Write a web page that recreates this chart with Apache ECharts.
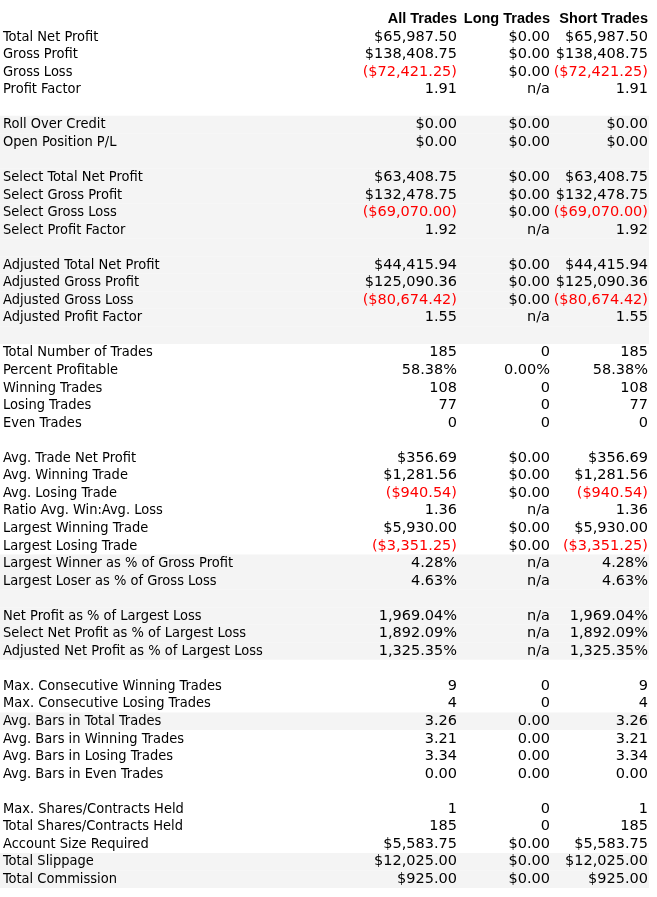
<!DOCTYPE html>
<html>
<head>
<meta charset="utf-8">
<script src="https://cdn.jsdelivr.net/npm/echarts@6/dist/echarts.min.js"></script>
<style>
html,body{margin:0;padding:0;background:#fff;}
#chart{width:657px;height:897px;}
</style>
</head>
<body>
<div id="chart"></div>
<script>
// column headers
var headers = ['All Trades', 'Long Trades', 'Short Trades'];

// row labels, '' = blank spacer row
var rowLabels = [
    'Total Net Profit', 'Gross Profit', 'Gross Loss', 'Profit Factor', '',
    'Roll Over Credit', 'Open Position P/L', '',
    'Select Total Net Profit', 'Select Gross Profit', 'Select Gross Loss', 'Select Profit Factor', '',
    'Adjusted Total Net Profit', 'Adjusted Gross Profit', 'Adjusted Gross Loss', 'Adjusted Profit Factor', '',
    'Total Number of Trades', 'Percent Profitable', 'Winning Trades', 'Losing Trades', 'Even Trades', '',
    'Avg. Trade Net Profit', 'Avg. Winning Trade', 'Avg. Losing Trade', 'Ratio Avg. Win:Avg. Loss',
    'Largest Winning Trade', 'Largest Losing Trade', 'Largest Winner as % of Gross Profit',
    'Largest Loser as % of Gross Loss', '',
    'Net Profit as % of Largest Loss', 'Select Net Profit as % of Largest Loss',
    'Adjusted Net Profit as % of Largest Loss', '',
    'Max. Consecutive Winning Trades', 'Max. Consecutive Losing Trades', 'Avg. Bars in Total Trades',
    'Avg. Bars in Winning Trades', 'Avg. Bars in Losing Trades', 'Avg. Bars in Even Trades', '',
    'Max. Shares/Contracts Held', 'Total Shares/Contracts Held', 'Account Size Required',
    'Total Slippage', 'Total Commission'
];

var allTrades = [
    '$65,987.50', '$138,408.75', '($72,421.25)', '1.91', '',
    '$0.00', '$0.00', '',
    '$63,408.75', '$132,478.75', '($69,070.00)', '1.92', '',
    '$44,415.94', '$125,090.36', '($80,674.42)', '1.55', '',
    '185', '58.38%', '108', '77', '0', '',
    '$356.69', '$1,281.56', '($940.54)', '1.36', '$5,930.00', '($3,351.25)', '4.28%', '4.63%', '',
    '1,969.04%', '1,892.09%', '1,325.35%', '',
    '9', '4', '3.26', '3.21', '3.34', '0.00', '',
    '1', '185', '$5,583.75', '$12,025.00', '$925.00'
];

var longTrades = [
    '$0.00', '$0.00', '$0.00', 'n/a', '',
    '$0.00', '$0.00', '',
    '$0.00', '$0.00', '$0.00', 'n/a', '',
    '$0.00', '$0.00', '$0.00', 'n/a', '',
    '0', '0.00%', '0', '0', '0', '',
    '$0.00', '$0.00', '$0.00', 'n/a', '$0.00', '$0.00', 'n/a', 'n/a', '',
    'n/a', 'n/a', 'n/a', '',
    '0', '0', '0.00', '0.00', '0.00', '0.00', '',
    '0', '0', '$0.00', '$0.00', '$0.00'
];

var shortTrades = [
    '$65,987.50', '$138,408.75', '($72,421.25)', '1.91', '',
    '$0.00', '$0.00', '',
    '$63,408.75', '$132,478.75', '($69,070.00)', '1.92', '',
    '$44,415.94', '$125,090.36', '($80,674.42)', '1.55', '',
    '185', '58.38%', '108', '77', '0', '',
    '$356.69', '$1,281.56', '($940.54)', '1.36', '$5,930.00', '($3,351.25)', '4.28%', '4.63%', '',
    '1,969.04%', '1,892.09%', '1,325.35%', '',
    '9', '4', '3.26', '3.21', '3.34', '0.00', '',
    '1', '185', '$5,583.75', '$12,025.00', '$925.00'
];

// rows (header is row 0) that sit on the grey band
var shadedRows = [6, 7, 8, 9, 10, 11, 12, 13, 14, 15, 16, 17, 18, 31, 32, 33, 34, 35, 36, 40, 48, 49];

// layout
var W = 657;
var labelX = 3;
var colRight = [457, 550, 648];
var bandRight = 649;
var labelFont = '14.5px "DejaVu Sans Condensed", "Liberation Sans", sans-serif';
var valueFont = '14.5px "DejaVu Sans", sans-serif';
var headFont = 'bold 14.5px "Liberation Sans", Arial, sans-serif';

var rowCount = rowLabels.length + 1;
var rowIds = [];
for (var i = 0; i < rowCount; i++) rowIds.push(String(i));

var bandData = rowIds.map(function (r, i) {
    return shadedRows.indexOf(i) >= 0 ? bandRight : '-';
});

function textSeries(texts, anchorX, align, font, head) {
    var cells = [head].concat(texts);
    return {
        type: 'custom',
        silent: true,
        z: 5,
        clip: false,
        renderItem: function (params, api) {
            var s = cells[params.dataIndex];
            if (!s) return null;
            var pt = api.coord([api.value(0), api.value(1)]);
            var isHead = params.dataIndex === 0;
            return {
                type: 'text',
                x: pt[0],
                y: pt[1],
                z2: 10,
                style: {
                    text: s,
                    font: isHead ? headFont : font,
                    fill: s.charAt(0) === '(' ? '#ff0000' : '#000000',
                    align: align,
                    verticalAlign: 'middle'
                }
            };
        },
        data: cells.map(function (s, i) { return [anchorX, i]; })
    };
}

var series = [{
    type: 'bar',
    silent: true,
    z: 1,
    data: bandData,
    barWidth: '100%',
    barCategoryGap: '0%',
    itemStyle: { color: '#f4f4f4' }
}];
series.push(textSeries(rowLabels, labelX, 'left', labelFont, ''));
series.push(textSeries(allTrades, colRight[0], 'right', valueFont, headers[0]));
series.push(textSeries(longTrades, colRight[1], 'right', valueFont, headers[1]));
series.push(textSeries(shortTrades, colRight[2], 'right', valueFont, headers[2]));

var chart = echarts.init(document.getElementById('chart'));
chart.setOption({
    animation: false,
    grid: { left: 0, right: 0, top: 10.5, bottom: 9 },
    xAxis: { type: 'value', min: 0, max: W, show: false },
    yAxis: { type: 'category', data: rowIds, inverse: true, show: false },
    series: series
});
</script>
</body>
</html>
